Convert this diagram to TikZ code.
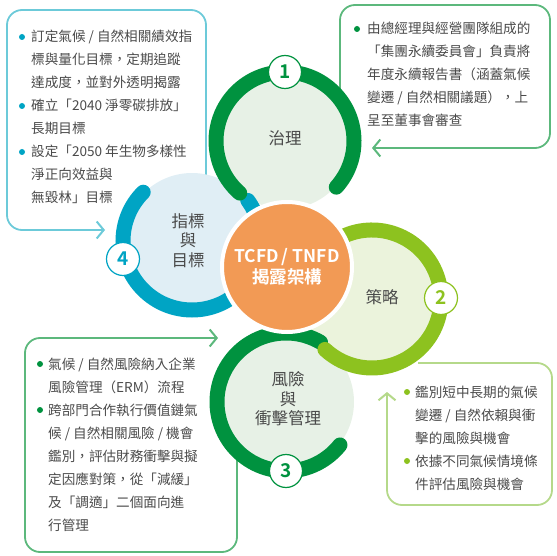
\documentclass[tikz,border=0pt]{standalone}
\usepackage{fontspec}
\setmainfont{Noto Sans CJK TC}[BoldFont={Noto Sans CJK TC Bold}]
\usepackage{tikz}
\usetikzlibrary{arrows.meta}

\definecolor{govgreen}{HTML}{00923F}
\definecolor{stratgreen}{HTML}{8DC21F}
\definecolor{metricblue}{HTML}{00A4C4}
\definecolor{govfill}{HTML}{E7F1E6}
\definecolor{stratfill}{HTML}{EBF3DC}
\definecolor{metricfill}{HTML}{E0EEF5}
\definecolor{coreorange}{HTML}{F29A55}
\definecolor{boxblue}{HTML}{6CCAD9}
\definecolor{boxgreen}{HTML}{5CB87C}
\definecolor{boxlime}{HTML}{B5D98A}
\definecolor{txtgray}{HTML}{4A4A4A}

\begin{document}
\begin{tikzpicture}[x=1pt, y=1pt,
    frame/.style={line width=1.8pt, rounded corners=15pt,
        -{Straight Barb[length=7pt, width=17pt, line width=2pt]}},
    ring/.style={line width=15pt, line cap=round},
    num/.style={circle, draw, fill=white, line width=1.2pt, minimum size=33pt,
        inner sep=0pt, font=\bfseries\fontsize{19}{19}\selectfont},
    lbl/.style={align=center, text=txtgray, font=\fontsize{16.5}{19.5}\selectfont},
    body/.style={anchor=base west, align=left, inner sep=0pt, text=txtgray,
        font=\fontsize{13.6}{23}\selectfont}]

    \useasboundingbox (0,0) rectangle (557,-556);

    % --- Box outlines (behind the circles) ---
    \draw[frame, boxblue] (206,-200) -- (206,-10) -- (7,-10) -- (7,-230) -- (105,-230);
    \draw[frame, boxgreen] (340,-150) -- (340,-5) -- (550,-5) -- (550,-148) -- (372,-148);
    \draw[frame, boxgreen] (237,-440) -- (237,-552) -- (25,-552) -- (25,-338) -- (218,-338);
    \draw[frame, boxlime] (418,-363) -- (552,-363) -- (552,-505) -- (387,-505) -- (387,-392);

    % --- Circle fills ---
    \fill[metricfill] (192,-241) circle (68);
    \fill[govfill] (285,-141) circle (68);
    \fill[govfill] (286,-402) circle (68);
    \fill[stratfill] (372,-299) circle (68);

    % --- Rings ---
    \draw[ring, metricblue] (192,-241) ++(135:69) arc[start angle=135, end angle=396, radius=69];
    \draw[ring, govgreen] (285,-141) ++(-42:69) arc[start angle=-42, end angle=229, radius=69];
    \draw[ring, govgreen] (286,-402) ++(60:69) arc[start angle=60, end angle=321.5, radius=69];
    \draw[ring, stratgreen] (372,-299) ++(114:69) arc[start angle=114, end angle=-133, radius=69];

    % --- Centre ---
    \node[circle, fill=coreorange, draw=white, line width=4pt, minimum size=130pt,
        text=white, align=center, font=\bfseries\fontsize{17.5}{21}\selectfont]
        (core) at (287,-267) {TCFD\,/ TNFD\\揭露架構};

    % --- Numbers ---
    \node[num, draw=govgreen, text=govgreen] (n1) at (285,-72) {1};
    \node[num, draw=stratgreen, text=stratgreen] (n2) at (441,-298) {2};
    \node[num, draw=govgreen, text=govgreen] (n3) at (286,-471) {3};
    \node[num, draw=metricblue, text=metricblue] (n4) at (123,-259) {4};

    % --- Circle labels ---
    \node[lbl] (gov) at (285,-138) {治理};
    \node[lbl] (strat) at (382,-297) {策略};
    \node[lbl] (risk) at (288,-399) {風險\\與\\衝擊管理};
    \node[lbl] (metric) at (188,-240.5) {指標\\與\\目標};

    % --- Text: metrics and targets (base = last line) ---
    \fill[metricblue] (22,-37) circle (3);
    \node[body] (metric-a) at (31,-88) {訂定氣候 / 自然相關績效指\\標與量化目標，定期追蹤\\達成度，並對外透明揭露};
    \fill[metricblue] (22,-106) circle (3);
    \node[body] (metric-b) at (31,-134) {確立「2040 淨零碳排放」\\長期目標};
    \fill[metricblue] (22,-152) circle (3);
    \node[body] (metric-c) at (31,-203) {設定「2050 年生物多樣性\\淨正向效益與\\無毀林」目標};

    % --- Text: governance ---
    \fill[govgreen] (357,-29) circle (3);
    \node[body] (gov-a) at (367,-126) {由總經理與經營團隊組成的\\「集團永續委員會」負責將\\年度永續報告書（涵蓋氣候\\變遷 / 自然相關議題），上\\呈至董事會審查};

    % --- Text: risk management ---
    \fill[govgreen] (40,-364) circle (3);
    \node[body] (risk-a) at (48,-392) {氣候 / 自然風險納入企業\\風險管理（ERM）流程};
    \fill[govgreen] (40,-410) circle (3);
    \node[body] (risk-b) at (48,-530) {跨部門合作執行價值鏈氣\\候 / 自然相關風險 / 機會\\鑑別，評估財務衝擊與擬\\定因應對策，從「減緩」\\及「調適」二個面向進\\行管理};

    % --- Text: strategy ---
    \fill[stratgreen] (407,-392) circle (3);
    \node[body] (strat-a) at (415,-443) {鑑別短中長期的氣候\\變遷 / 自然依賴與衝\\擊的風險與機會};
    \fill[stratgreen] (407,-461) circle (3);
    \node[body] (strat-b) at (415,-489) {依據不同氣候情境條\\件評估風險與機會};

\end{tikzpicture}
\end{document}
